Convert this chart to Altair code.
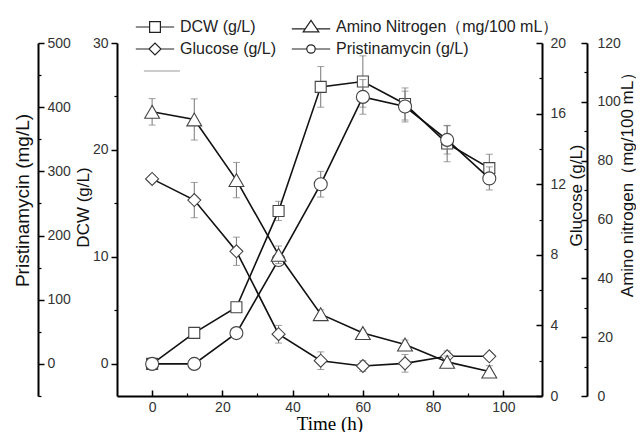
import altair as alt
import pandas as pd

# ---------------- data ----------------
time_h = [0, 12, 24, 36, 48, 60, 72, 84, 96]

dcw = [0.0, 2.9, 5.3, 14.3, 25.9, 26.4, 24.3, 20.6, 18.3]
dcw_err = [0.2, 0.4, 0.3, 0.9, 1.9, 2.4, 1.5, 1.7, 1.3]

pristinamycin = [0, 0, 48, 162, 280, 416, 401, 349, 289]
pristinamycin_err = [3, 3, 5, 8, 20, 27, 24, 22, 18]

glucose = [12.3, 11.1, 8.2, 3.5, 2.0, 1.7, 1.85, 2.25, 2.25]
glucose_err = [0.2, 1.0, 0.8, 0.5, 0.5, 0.3, 0.5, 0.3, 0.2]

amino = [96.6, 94.0, 73.4, 48.0, 27.8, 21.4, 17.5, 11.6, 8.3]
amino_err = [4.5, 7.0, 6.0, 3.0, 1.5, 1.0, 1.5, 2.0, 2.0]

x_major = [0, 20, 40, 60, 80, 100]
x_minor = [10, 30, 50, 70, 90]
dcw_major = [0, 10, 20, 30]
dcw_minor = [5, 15, 25]
pri_major = [0, 100, 200, 300, 400, 500]
pri_minor = [-50, 50, 150, 250, 350, 450]
glu_major = [0, 4, 8, 12, 16, 20]
glu_minor = [2, 6, 10, 14, 18]
ami_major = [0, 20, 40, 60, 80, 100, 120]
ami_minor = [10, 30, 50, 70, 90, 110]

legend_names = ["DCW (g/L)", "Amino Nitrogen\uff08mg/100 mL\uff09",
                "Glucose (g/L)", "Pristinamycin (g/L)", " "]

# ---------------- layout ----------------
W, H = 425, 353
FONT = "Liberation Sans"
SERIF = "Liberation Serif"

legend_paths = [
    "M-3.2,0H-0.9M0.9,0H3.2M-0.9,-0.9H0.9V0.9H-0.9Z",
    "M-3.2,0.3H-0.95M0.95,0.3H3.2M-1.3,0.8L0,-1.1L1.3,0.8Z",
    "M-3.2,0H-1M1,0H3.2M-1,0L0,-1L1,0L0,1Z",
    "M-3.2,0H-0.7M0.7,0H3.2M-0.7,0A0.7,0.7 0 1,0 0.7,0A0.7,0.7 0 1,0 -0.7,0Z",
    "M-1.85,0H4.15",
]
legend_colors = ["#222222", "#222222", "#222222", "#222222", "#999999"]

xscale = alt.Scale(domain=[-10, 111], nice=False, zero=False)

AX = dict(grid=False, domainColor="#000", domainWidth=2, tickColor="#000",
          tickWidth=1.5, labelFont=FONT, labelFontSize=14, labelColor="#333",
          titleFont=FONT, titleFontSize=17, titleFontWeight="normal",
          titleColor="#111")
MINOR = dict(grid=False, domain=False, labels=False, title=None,
             tickColor="#000", tickWidth=1.2)


def make_df(vals, errs):
    return pd.DataFrame({
        "t": time_h,
        "v": vals,
        "lo": [v - e for v, e in zip(vals, errs)],
        "hi": [v + e for v, e in zip(vals, errs)],
    })


def series(vals, errs, domain, shape, size):
    df = make_df(vals, errs)
    ysc = alt.Scale(domain=domain, nice=False, zero=False)
    base = alt.Chart(df).encode(x=alt.X("t:Q", scale=xscale, axis=None))
    err = base.mark_rule(color="#777", strokeWidth=1).encode(
        y=alt.Y("lo:Q", scale=ysc, axis=None), y2="hi:Q")
    cap_lo = base.mark_tick(color="#777", size=7, thickness=1,
                            orient="horizontal").encode(
        y=alt.Y("lo:Q", scale=ysc, axis=None))
    cap_hi = base.mark_tick(color="#777", size=7, thickness=1,
                            orient="horizontal").encode(
        y=alt.Y("hi:Q", scale=ysc, axis=None))
    line = base.mark_line(color="#111", strokeWidth=1.6).encode(
        y=alt.Y("v:Q", scale=ysc, axis=None))
    pts = base.mark_point(shape=shape, size=size, filled=True, fill="white",
                          stroke="#444", strokeWidth=1.1, opacity=1).encode(
        y=alt.Y("v:Q", scale=ysc, axis=None))
    return alt.layer(err, cap_lo, cap_hi, line, pts)


def axis_layer(vals, domain, yaxis, xaxis=None):
    """Invisible marks that only carry an axis for a given scale."""
    df = make_df(vals, [0] * len(vals))
    ysc = alt.Scale(domain=domain, nice=False, zero=False)
    return alt.Chart(df).mark_point(opacity=0).encode(
        x=alt.X("t:Q", scale=xscale, axis=xaxis),
        y=alt.Y("v:Q", scale=ysc, axis=yaxis))


# ---------------- axes ----------------
x_axis = alt.Axis(orient="bottom", values=x_major, format="d",
                  tickSize={"expr": "-6"}, labelPadding=10, title="Time (h)",
                  **{**AX, "titleFont": SERIF, "titleFontSize": 19,
                     "titleColor": "#000"}, titleY=33,
                  titleBaseline="alphabetic")
x_minor_axis = alt.Axis(orient="bottom", values=x_minor,
                        tickSize={"expr": "-3"}, **MINOR)

dcw_axis = alt.Axis(orient="left", values=dcw_major, tickSize=6, labelPadding=3,
                    title="DCW (g/L)", titleAngle=270, titleX=-34, titleY=164,
                    titleAlign="center", titleBaseline="middle", **AX)
dcw_minor_axis = alt.Axis(orient="left", values=dcw_minor, tickSize=3, **MINOR)

pri_axis = alt.Axis(orient="right", offset=-(W + 79), values=pri_major,
                    tickSize=6, labelPadding=3, title="Pristinamycin (mg/L)",
                    titleAngle=270, titleX=-16, titleY=157, titleAlign="center",
                    titleBaseline="middle", **{**AX, "titleFontSize": 19})
pri_minor_axis = alt.Axis(orient="right", offset=-(W + 79), values=pri_minor,
                          tickSize=3, **MINOR)

glu_axis = alt.Axis(orient="right", offset=0, values=glu_major,
                    tickSize={"expr": "-6"}, labelPadding=14,
                    title="Glucose (g/L)", titleAngle=270, titleX=34,
                    titleY=152, titleAlign="center", titleBaseline="middle", **AX)
glu_minor_axis = alt.Axis(orient="right", offset=0, values=glu_minor,
                          tickSize={"expr": "-3"}, **MINOR)

ami_axis = alt.Axis(orient="right", offset=45, values=ami_major,
                    tickSize={"expr": "-6"}, labelPadding=16,
                    title="Amino nitrogen\uff08mg/100 mL\uff09", titleAngle=270,
                    titleX=45, titleY=137, titleAlign="center",
                    titleBaseline="alphabetic", **AX)
ami_minor_axis = alt.Axis(orient="right", offset=45, values=ami_minor,
                          tickSize={"expr": "-3"}, **MINOR)

# ---------------- layers ----------------
series_layers = [
    series(dcw, dcw_err, [-3, 30], "square", 121),
    series(pristinamycin, pristinamycin_err, [-50, 500], "circle", 169),
    series(glucose, glucose_err, [0, 20], "diamond", 169),
    series(amino, amino_err, [0, 120], "triangle-up", 220),
]

axis_layers = [
    axis_layer(dcw, [-3, 30], dcw_axis, x_axis),
    axis_layer(dcw, [-3, 30], dcw_minor_axis, x_minor_axis),
    axis_layer(pristinamycin, [-50, 500], pri_axis),
    axis_layer(pristinamycin, [-50, 500], pri_minor_axis),
    axis_layer(glucose, [0, 20], glu_axis),
    axis_layer(glucose, [0, 20], glu_minor_axis),
    axis_layer(amino, [0, 120], ami_axis),
    axis_layer(amino, [0, 120], ami_minor_axis),
]

leg_cfg = alt.Legend(title=None, orient="none", legendX=30, legendY=-24,
                     direction="horizontal", columns=2, columnPadding=12,
                     rowPadding=5, padding=0,
                     labelFont=FONT, labelFontSize=16, labelColor="#222",
                     labelLimit=400, labelOffset=17, symbolSize=144,
                     symbolStrokeWidth=1.2, symbolOpacity=1)
leg_df = pd.DataFrame({"name": legend_names})
legend_layer = alt.Chart(leg_df).mark_point(opacity=0, filled=False,
                                            strokeWidth=1.2).encode(
    shape=alt.Shape("name:N", scale=alt.Scale(domain=legend_names,
                                              range=legend_paths),
                    legend=leg_cfg),
    color=alt.Color("name:N", scale=alt.Scale(domain=legend_names,
                                              range=legend_colors),
                    legend=leg_cfg),
)

chart = alt.layer(
    *axis_layers, *series_layers, legend_layer
).resolve_scale(
    x="independent", y="independent"
).properties(
    width=W, height=H,
    padding={"left": 109, "top": 35, "right": 94, "bottom": 36},
    autosize=alt.AutoSizeParams(type="none"),
).configure_view(stroke=None)

chart.save("out.html", embed_options={"renderer": "svg", "actions": False})
